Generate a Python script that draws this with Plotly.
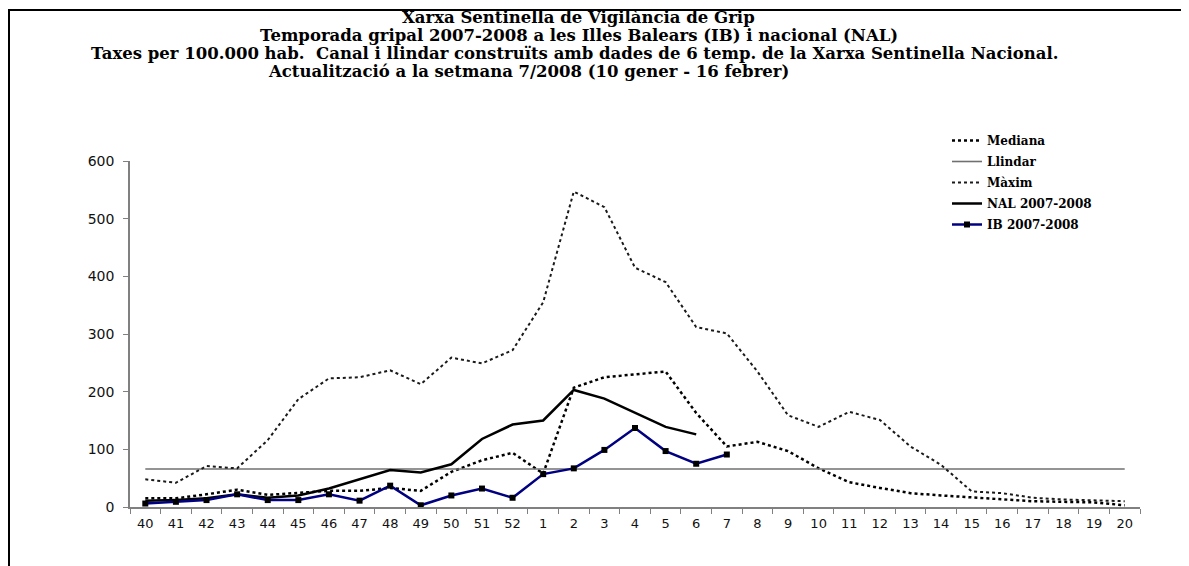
import plotly.graph_objects as go

weeks = ["40", "41", "42", "43", "44", "45", "46", "47", "48", "49", "50", "51", "52",
         "1", "2", "3", "4", "5", "6", "7", "8", "9", "10", "11", "12", "13", "14",
         "15", "16", "17", "18", "19", "20"]

mediana = [15, 15, 22, 30, 21, 25, 28, 28, 33, 28, 61, 81, 94,
           58, 207, 225, 230, 235, 163, 105, 113, 97, 67, 43, 33, 24, 20,
           17, 13, 10, 9, 8, 3]

maxim = [48, 42, 71, 67, 116, 187, 223, 225, 237, 213, 259, 249, 272,
         355, 547, 520, 415, 390, 312, 301, 235, 159, 139, 165, 151, 105, 73,
         27, 24, 16, 13, 11, 10]

llindar_value = 66
llindar = [llindar_value] * len(weeks)

nal_weeks = weeks[:19]
nal = [11, 12, 15, 22, 16, 20, 32, 48, 64, 60, 74, 118, 143, 150, 203, 188, 164, 139, 126]

ib_weeks = weeks[:20]
ib = [6, 9, 12, 22, 12, 12, 22, 11, 37, 3, 20, 32, 16, 57, 67, 99, 137, 97, 75, 91]

title_lines = [
    "Xarxa Sentinella de Vigilància de Grip",
    "Temporada gripal 2007-2008 a les Illes Balears (IB) i nacional (NAL)",
    "Taxes per 100.000 hab.  Canal i llindar construïts amb dades de 6 temp. de la Xarxa Sentinella Nacional.",
    "Actualització a la setmana 7/2008 (10 gener - 16 febrer)",
]

# page is drawn with an 8px body margin; work in page pixels and convert
OFF = 8
W, H = 1189 - OFF, 566 - OFF
L, R, T, B = 130 - OFF, 49, 161 - OFF, 59
PW, PH = W - L - R, H - T - B

def px(x):  # page pixel -> paper x
    return (x - OFF - L) / PW

def py(y):  # page pixel -> paper y
    return (H - B - (y - OFF)) / PH

fig = go.Figure()
fig.add_trace(go.Scatter(x=weeks, y=mediana, name="<b>Mediana</b>", mode="lines", legendgroup="a",
                         line=dict(color="#000000", width=2.5, dash="dot")))
fig.add_trace(go.Scatter(x=weeks, y=llindar, name="<b>Llindar</b>", mode="lines", legendgroup="b",
                         line=dict(color="#707070", width=1.6)))
fig.add_trace(go.Scatter(x=weeks, y=maxim, name="<b>Màxim</b>", mode="lines", legendgroup="c",
                         line=dict(color="#1a1a1a", width=2, dash="dot")))
fig.add_trace(go.Scatter(x=nal_weeks, y=nal, name="<b>NAL 2007-2008</b>", mode="lines", legendgroup="d",
                         line=dict(color="#000000", width=2.5)))
fig.add_trace(go.Scatter(x=ib_weeks, y=ib, name="<b>IB 2007-2008</b>", mode="lines+markers", legendgroup="e",
                         line=dict(color="#000080", width=2.5),
                         marker=dict(symbol="square", size=6, color="#000000")))

title_font = dict(family="DejaVu Serif", size=16.5, color="#000000")
centers = [578, 579, 574, 528]
ys = [17, 35, 53, 71]
annotations = []
for text, cx, cy in zip(title_lines, centers, ys):
    annotations.append(dict(text="<b>" + text + "</b>", x=px(cx), y=py(cy),
                            xref="paper", yref="paper", xanchor="center", yanchor="middle",
                            showarrow=False, font=title_font))

shapes = [
    dict(type="line", xref="paper", yref="paper", x0=px(7), x1=px(1200), y0=py(10), y1=py(10),
         line=dict(color="#000000", width=2)),
    dict(type="line", xref="paper", yref="paper", x0=px(9), x1=px(9), y0=py(10), y1=py(570),
         line=dict(color="#000000", width=2)),
]

fig.update_layout(
    width=W, height=H, autosize=False,
    margin=dict(l=L, r=R, t=T, b=B),
    paper_bgcolor="white", plot_bgcolor="white",
    showlegend=True,
    legend=dict(x=px(947), y=py(126), xanchor="left", yanchor="top",
                font=dict(family="DejaVu Serif", size=12, color="#000000"),
                bgcolor="rgba(0,0,0,0)", borderwidth=0, tracegroupgap=2),
    annotations=annotations,
    shapes=shapes,
    xaxis=dict(type="category", categoryorder="array", categoryarray=weeks,
               range=[-0.5, len(weeks) - 0.5], showgrid=False, zeroline=False,
               showline=True, linecolor="#808080", linewidth=1.5,
               ticks="outside", tickson="boundaries", ticklen=5, tickcolor="#808080",
               ticklabelstandoff=4,
               tickfont=dict(family="DejaVu Sans", size=13, color="#111111")),
    yaxis=dict(range=[0, 600], dtick=100, showgrid=False, zeroline=False,
               showline=True, linecolor="#808080", linewidth=1.5,
               ticks="outside", ticklen=5, tickcolor="#808080",
               ticklabelstandoff=6,
               tickfont=dict(family="DejaVu Sans", size=14, color="#111111")),
)

fig.write_html("out.html")
